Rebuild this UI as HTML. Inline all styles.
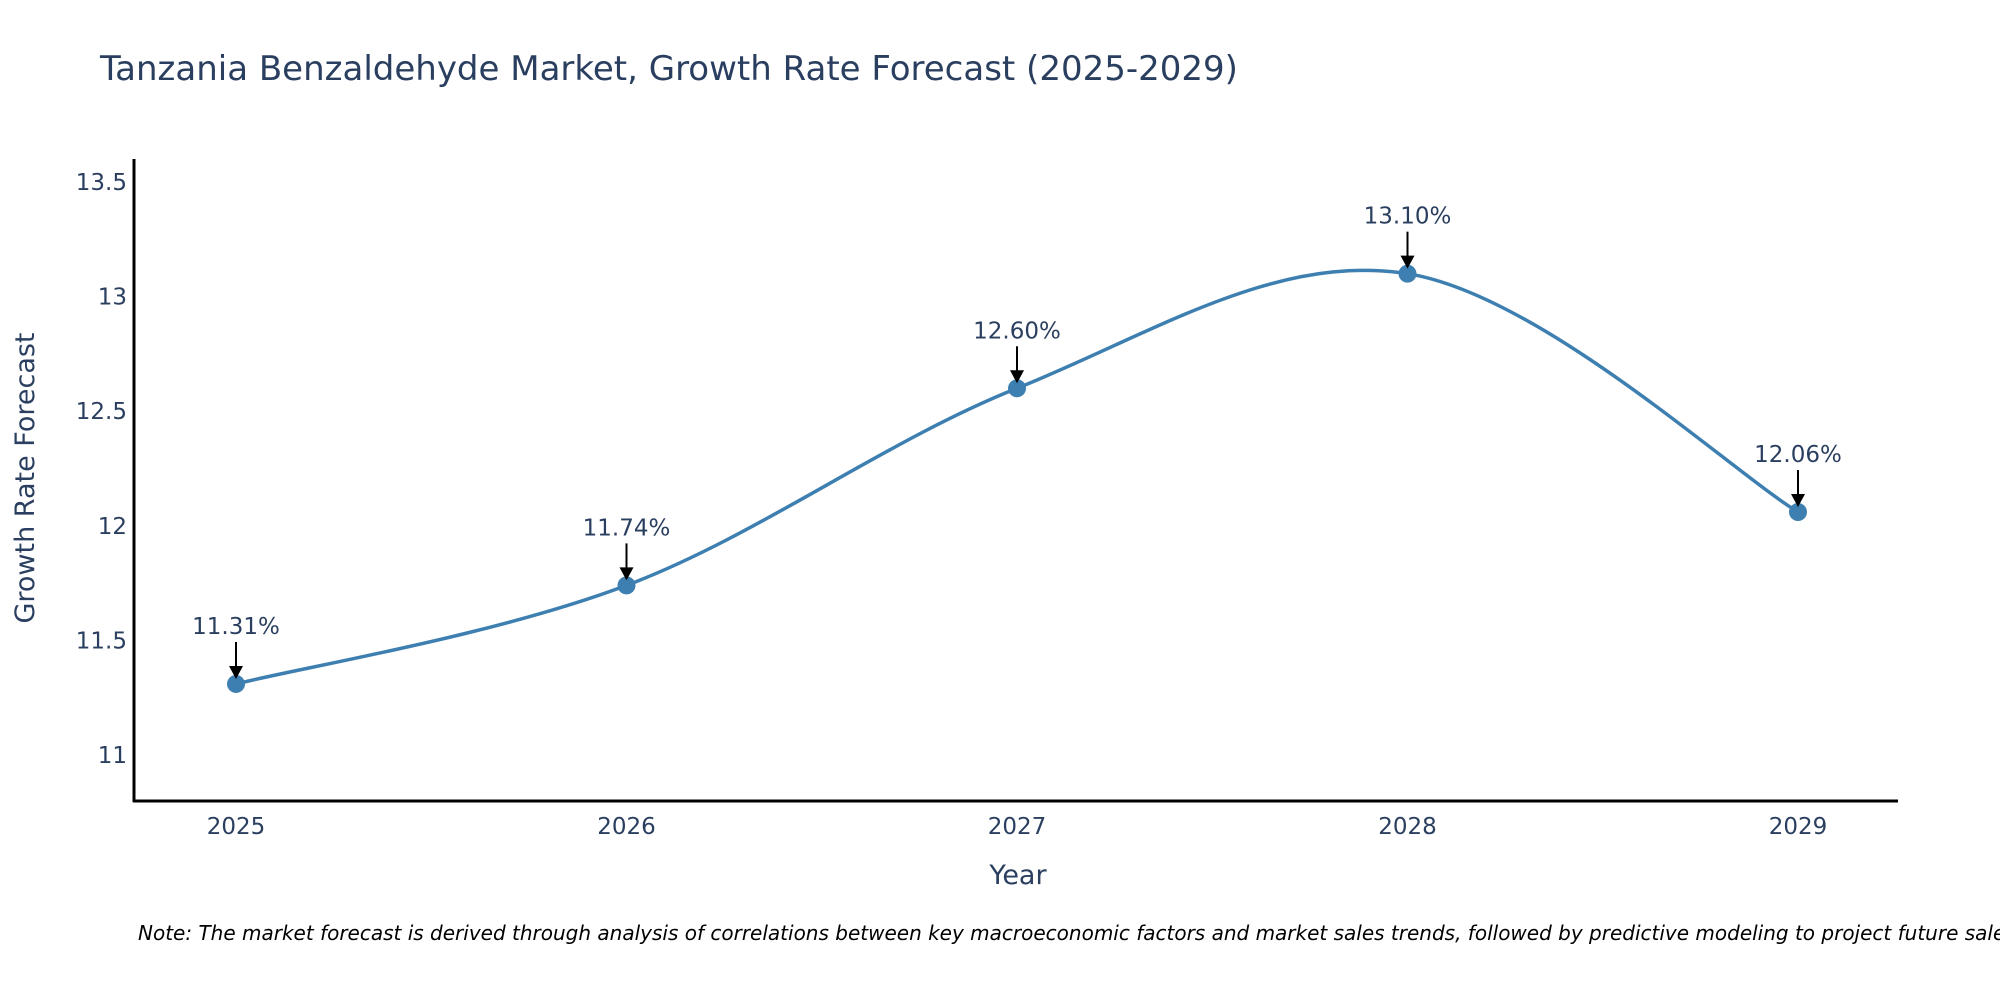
<!DOCTYPE html>
<html><head><meta charset="utf-8"><style>
html,body{margin:0;padding:0;background:#fff;}
svg{display:block;font-family:"DejaVu Sans","Liberation Sans",sans-serif;}
</style></head><body>
<svg id="chart" width="2000" height="1000" viewBox="0 0 2000 1000">
<text x="100" y="80" font-size="34" fill="#2a3f5f">Tanzania Benzaldehyde Market, Growth Rate Forecast (2025-2029)</text>
<g id="yticks"></g>
<g id="xticks"></g>
<line x1="134" y1="159" x2="134" y2="802" stroke="#000" stroke-width="3"/>
<line x1="133" y1="801" x2="1898" y2="801" stroke="#000" stroke-width="3"/>
<text transform="translate(34,478) rotate(-90)" text-anchor="middle" font-size="27" fill="#2a3f5f">Growth Rate Forecast</text>
<text x="1018" y="884" text-anchor="middle" font-size="27" fill="#2a3f5f">Year</text>
<g id="series"></g>
<text x="138" y="940" font-size="20" font-style="italic" fill="#000">Note: The market forecast is derived through analysis of correlations between key macroeconomic factors and market sales trends, followed by predictive modeling to project future sales.</text>
</svg>
<script>
const categories = ["2025","2026","2027","2028","2029"];
const values = [11.31, 11.74, 12.60, 13.10, 12.06];
const valueLabels = ["11.31%","11.74%","12.60%","13.10%","12.06%"];
const yTicks = [11, 11.5, 12, 12.5, 13, 13.5];
const yTickLabels = ["11","11.5","12","12.5","13","13.5"];

const NS = "http://www.w3.org/2000/svg";
function xScale(i){ return 236 + i * (1798 - 236) / (categories.length - 1); }
function yScale(v){ return 755 - (v - 11) * (755 - 182) / 2.5; }
function mk(tag, attrs, parent){ const e=document.createElementNS(NS,tag); for(const k in attrs) e.setAttribute(k,attrs[k]); parent.appendChild(e); return e; }

const yt = document.getElementById('yticks');
yTicks.forEach((t,i)=>{
  const e = mk('text',{x:127,y:yScale(t)+8,'text-anchor':'end','font-size':23,fill:'#2a3f5f'},yt);
  
  
  e.textContent = yTickLabels[i];
});
const xt = document.getElementById('xticks');
categories.forEach((c,i)=>{
  const e = mk('text',{x:xScale(i),y:834,'text-anchor':'middle','font-size':23,fill:'#2a3f5f'},xt);
  
  
  e.textContent = c;
});

const g = document.getElementById('series');
const pts = values.map((v,i)=>[xScale(i), yScale(v)]);
let d = `M${pts[0][0]},${pts[0][1]}`;
const s = 0.17;
for(let i=0;i<pts.length-1;i++){
  const p0 = pts[Math.max(i-1,0)], p1 = pts[i], p2 = pts[i+1], p3 = pts[Math.min(i+2,pts.length-1)];
  const c1 = [p1[0]+(p2[0]-p0[0])*s, p1[1]+(p2[1]-p0[1])*s];
  const c2 = [p2[0]-(p3[0]-p1[0])*s, p2[1]-(p3[1]-p1[1])*s];
  d += ` C${c1[0]},${c1[1]} ${c2[0]},${c2[1]} ${p2[0]},${p2[1]}`;
}
const line = mk('path',{d:d,fill:'none',stroke:'#3d7fb0','stroke-width':3.5},g);



pts.forEach((p,i)=>{
  const c = mk('circle',{cx:p[0],cy:p[1],r:9,fill:'#3d7fb0'},g);
  
  
  const a = mk('line',{x1:p[0],y1:p[1]-42,x2:p[0],y2:p[1]-16,stroke:'#000','stroke-width':2},g);
  
  
  const h = mk('polygon',{points:`${p[0]-7},${p[1]-18} ${p[0]+7},${p[1]-18} ${p[0]},${p[1]-5}`,fill:'#000'},g);
  
  
  const t = mk('text',{x:p[0],y:p[1]-50,'text-anchor':'middle','font-size':23,fill:'#2a3f5f'},g);
  
  
  t.textContent = valueLabels[i];
});
</script>
</body></html>
